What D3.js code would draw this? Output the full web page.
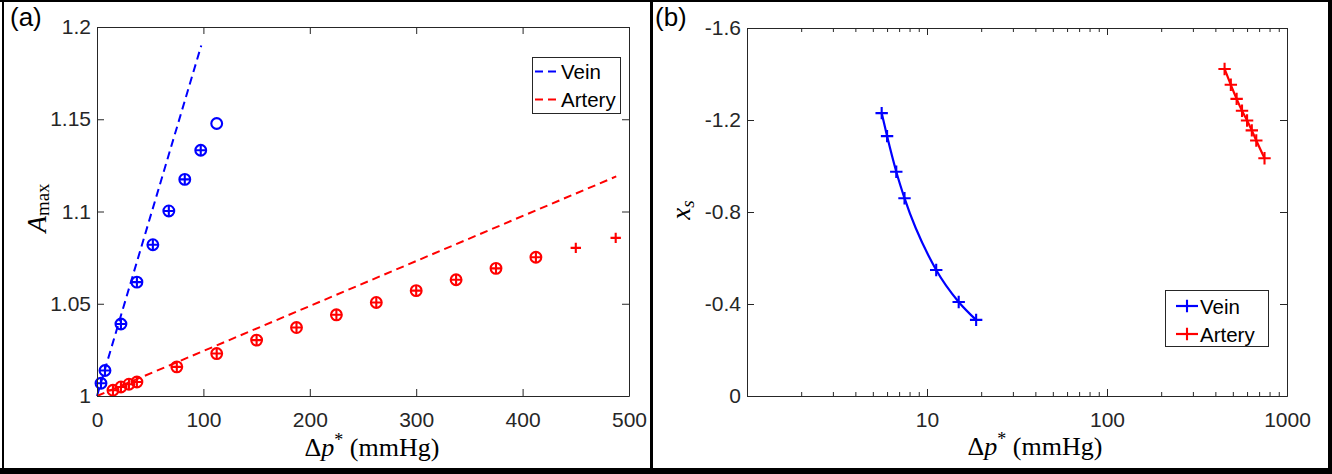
<!DOCTYPE html>
<html>
<head>
<meta charset="utf-8">
<script src="https://cdn.jsdelivr.net/npm/d3@7"></script>
<style>
  body { margin: 0; background: #fff; }
  svg { display: block; }
</style>
</head>
<body>
<script>
// ---- panel (a) data: A_max against pressure difference ----
const veinDpA = [3.75, 7.5, 22.5, 37.5, 52.5, 67.5, 82.5, 97.5, 112.5];
const veinAmaxCircle = [1.0069, 1.0138, 1.039, 1.0617, 1.082, 1.1003, 1.1174, 1.1332, 1.1477];
const veinDpPlus = [3.75, 7.5, 22.5, 37.5, 52.5, 67.5, 82.5, 97.5];
const veinAmaxPlus = [1.0069, 1.0138, 1.039, 1.0617, 1.082, 1.1003, 1.1174, 1.1332];

const arteryDpA = [15, 22.5, 30, 37.5, 75, 112.5, 150, 187.5, 225, 262.5, 300, 337.5, 375, 412.5];
const arteryAmaxCircle = [1.0031, 1.0049, 1.0064, 1.0076, 1.0158, 1.023, 1.0303, 1.0371, 1.044, 1.0507, 1.0571, 1.063, 1.0692, 1.0752];
const arteryDpPlus = [15, 22.5, 30, 37.5, 75, 112.5, 150, 187.5, 225, 262.5, 300, 337.5, 375, 412.5, 450, 487.5];
const arteryAmaxPlus = [1.0031, 1.0049, 1.0064, 1.0076, 1.0158, 1.023, 1.0303, 1.0371, 1.044, 1.0507, 1.0571, 1.063, 1.0692, 1.0752, 1.0803, 1.0857];

// linear (dashed) predictions
const veinFitDp = [0, 98];
const veinFitAmax = [1, 1.19];
const arteryFitDp = [0, 488];
const arteryFitAmax = [1, 1.119];

const xTicksA = [0, 100, 200, 300, 400, 500];
const yTicksA = [1, 1.05, 1.1, 1.15, 1.2];

// ---- panel (b) data: x_s against pressure difference (log x) ----
const veinDpB = [5.6, 6.0, 6.75, 7.5, 11.25, 15, 18.75];
const veinXs = [-1.23, -1.13, -0.975, -0.86, -0.548, -0.409, -0.331];
const arteryDpB = [450, 487.5, 525, 562.5, 600, 637.5, 675, 750];
const arteryXs = [-1.422, -1.353, -1.292, -1.24, -1.198, -1.155, -1.111, -1.034];

const xTicksB = [10, 100, 1000];
const xMinorB = [2, 3, 4, 5, 6, 7, 8, 9, 20, 30, 40, 50, 60, 70, 80, 90, 200, 300, 400, 500, 600, 700, 800, 900];
const yTicksB = [0, -0.4, -0.8, -1.2, -1.6];

const legendNames = ["Vein", "Artery"];

// ---- look ----
const BLUE = "#0000ff";
const RED = "#ff0000";
const AXIS = "#262626";
const SANS = "'Liberation Sans', Arial, sans-serif";
const SERIF = "'Liberation Serif', 'Times New Roman', serif";
const TICK_FONT = 21;
const TICK_LEN = 7;

const svg = d3.select("body").append("svg")
    .attr("width", 1332)
    .attr("height", 474);

// outer frame of the figure
const frame = svg.append("g").attr("fill", "#000");
frame.append("rect").attr("x", 0).attr("y", 0).attr("width", 1332).attr("height", 2);
frame.append("rect").attr("x", 2).attr("y", 0).attr("width", 2).attr("height", 474);
frame.append("rect").attr("x", 1328).attr("y", 0).attr("width", 4).attr("height", 474);
frame.append("rect").attr("x", 0).attr("y", 468).attr("width", 1332).attr("height", 6);
frame.append("rect").attr("x", 650).attr("y", 0).attr("width", 3).attr("height", 474);

// draws the four sides of a boxed MATLAB style axes
function drawBox(g, x, y, o) {
    const [x0, x1] = x.range();
    const [y0, y1] = y.range(); // y0 = bottom

    const style = sel => {
        sel.selectAll("path.domain").attr("stroke", AXIS).attr("stroke-width", 1);
        sel.selectAll(".tick line").attr("stroke", AXIS).attr("stroke-width", 1);
        sel.selectAll(".tick text")
            .attr("fill", AXIS)
            .style("font-family", SANS)
            .style("font-size", TICK_FONT + "px");
    };

    g.append("g").attr("transform", `translate(0,${y0})`)
        .call(d3.axisBottom(x).tickValues(o.xTicks).tickFormat(o.xFormat)
            .tickSizeInner(-TICK_LEN).tickSizeOuter(0).tickPadding(16))
        .call(style);
    g.append("g").attr("transform", `translate(0,${y1})`)
        .call(d3.axisTop(x).tickValues(o.xTicks).tickFormat(() => "")
            .tickSizeInner(-TICK_LEN).tickSizeOuter(0))
        .call(style);
    g.append("g").attr("transform", `translate(${x0},0)`)
        .call(d3.axisLeft(y).tickValues(o.yTicks).tickFormat(d => String(d))
            .tickSizeInner(-TICK_LEN).tickSizeOuter(0).tickPadding(6))
        .call(style);
    g.append("g").attr("transform", `translate(${x1},0)`)
        .call(d3.axisRight(y).tickValues(o.yTicks).tickFormat(() => "")
            .tickSizeInner(-TICK_LEN).tickSizeOuter(0))
        .call(style);

    if (o.xMinor) {
        g.append("g").attr("transform", `translate(0,${y0})`)
            .call(d3.axisBottom(x).tickValues(o.xMinor).tickFormat(() => "")
                .tickSizeInner(-4).tickSizeOuter(0))
            .call(style);
        g.append("g").attr("transform", `translate(0,${y1})`)
            .call(d3.axisTop(x).tickValues(o.xMinor).tickFormat(() => "")
                .tickSizeInner(-4).tickSizeOuter(0))
            .call(style);
    }
}

// x label: Δp* (mmHg)
function xLabel(g, cx, baseline) {
    const t = g.append("text")
        .attr("x", cx).attr("y", baseline)
        .attr("text-anchor", "middle")
        .style("font-family", SERIF)
        .style("font-size", "26px")
        .attr("fill", "#000");
    t.append("tspan").text("Δ");
    t.append("tspan").style("font-style", "italic").text("p");
    t.append("tspan").attr("dy", -10).style("font-size", "18px").text("*");
    t.append("tspan").attr("dy", 10).text(" (mmHg)");
}

// symbol helpers
const plusPath = s => `M${-s},0H${s}M0,${-s}V${s}`;

function drawCircles(g, xs, ys, x, y, color) {
    g.append("g").selectAll("circle")
        .data(d3.zip(xs, ys))
        .join("circle")
        .attr("cx", d => x(d[0]))
        .attr("cy", d => y(d[1]))
        .attr("r", 5.4)
        .attr("fill", "none")
        .attr("stroke", color)
        .attr("stroke-width", 2.1);
}

function drawPluses(g, xs, ys, x, y, color, size) {
    g.append("g").selectAll("path")
        .data(d3.zip(xs, ys))
        .join("path")
        .attr("transform", d => `translate(${x(d[0])},${y(d[1])})`)
        .attr("d", plusPath(size))
        .attr("fill", "none")
        .attr("stroke", color)
        .attr("stroke-width", 2.1);
}

// ================= panel (a) =================
const xA = d3.scaleLinear().domain([0, 500]).range([97, 629]);
const yA = d3.scaleLinear().domain([1, 1.2]).range([396, 27]);
const gA = svg.append("g");

const dashLine = d3.line().x(d => xA(d[0])).y(d => yA(d[1]));
gA.append("path")
    .attr("d", dashLine(d3.zip(veinFitDp, veinFitAmax)))
    .attr("fill", "none").attr("stroke", BLUE)
    .attr("stroke-width", 2).attr("stroke-dasharray", "8,5");
gA.append("path")
    .attr("d", dashLine(d3.zip(arteryFitDp, arteryFitAmax)))
    .attr("fill", "none").attr("stroke", RED)
    .attr("stroke-width", 2).attr("stroke-dasharray", "8,5");

drawCircles(gA, veinDpA, veinAmaxCircle, xA, yA, BLUE);
drawPluses(gA, veinDpPlus, veinAmaxPlus, xA, yA, BLUE, 5.2);
drawCircles(gA, arteryDpA, arteryAmaxCircle, xA, yA, RED);
drawPluses(gA, arteryDpPlus, arteryAmaxPlus, xA, yA, RED, 5.2);

drawBox(gA, xA, yA, { xTicks: xTicksA, yTicks: yTicksA, xFormat: d => String(d) });

xLabel(gA, 372, 456);

// y label A_max
const yl = gA.append("text")
    .attr("transform", "translate(46,208) rotate(-90)")
    .attr("text-anchor", "middle")
    .style("font-family", SERIF)
    .attr("fill", "#000");
yl.append("tspan").style("font-style", "italic").style("font-size", "27px").text("A");
yl.append("tspan").attr("dy", 3).style("font-size", "19px").text("max");

// legend (a)
const legA = gA.append("g");
legA.append("rect").attr("x", 532.5).attr("y", 57.5).attr("width", 88).attr("height", 56)
    .attr("fill", "#fff").attr("stroke", AXIS).attr("stroke-width", 1);
[BLUE, RED].forEach((c, i) => {
    const cy = 71.5 + i * 28;
    legA.append("line").attr("x1", 535).attr("x2", 557).attr("y1", cy).attr("y2", cy)
        .attr("stroke", c).attr("stroke-width", 2).attr("stroke-dasharray", "8,5");
    legA.append("text").attr("x", 561).attr("y", cy + 7.5)
        .style("font-family", SANS).style("font-size", "20.5px").attr("fill", "#000")
        .text(legendNames[i]);
});

gA.append("text").attr("x", 10).attr("y", 26)
    .style("font-family", SANS).style("font-size", "26px").attr("fill", "#000")
    .text("(a)");

// ================= panel (b) =================
const xB = d3.scaleLog().domain([1, 1000]).range([747, 1287]);
const yB = d3.scaleLinear().domain([0, -1.6]).range([396, 28]);
const gB = svg.append("g");

const curve = d3.line().x(d => xB(d[0])).y(d => yB(d[1])).curve(d3.curveMonotoneX);
gB.append("path")
    .attr("d", curve(d3.zip(veinDpB, veinXs)))
    .attr("fill", "none").attr("stroke", BLUE).attr("stroke-width", 2.2);
gB.append("path")
    .attr("d", curve(d3.zip(arteryDpB, arteryXs)))
    .attr("fill", "none").attr("stroke", RED).attr("stroke-width", 2.2);
drawPluses(gB, veinDpB, veinXs, xB, yB, BLUE, 6.2);
drawPluses(gB, arteryDpB, arteryXs, xB, yB, RED, 6.2);

drawBox(gB, xB, yB, { xTicks: xTicksB, xMinor: xMinorB, yTicks: yTicksB, xFormat: d => String(d) });

xLabel(gB, 1035, 455);

const ylB = gB.append("text")
    .attr("transform", "translate(690,210) rotate(-90)")
    .attr("text-anchor", "middle")
    .style("font-family", SERIF)
    .style("font-style", "italic")
    .attr("fill", "#000");
ylB.append("tspan").style("font-size", "27px").text("x");
ylB.append("tspan").attr("dy", 4).style("font-size", "19px").text("s");

// legend (b)
const legB = gB.append("g");
legB.append("rect").attr("x", 1165.5).attr("y", 290.5).attr("width", 103).attr("height", 56)
    .attr("fill", "#fff").attr("stroke", AXIS).attr("stroke-width", 1);
[BLUE, RED].forEach((c, i) => {
    const cy = 306 + i * 28;
    legB.append("line").attr("x1", 1176).attr("x2", 1198).attr("y1", cy).attr("y2", cy)
        .attr("stroke", c).attr("stroke-width", 2.2);
    legB.append("path").attr("transform", `translate(1187,${cy})`).attr("d", plusPath(6.2))
        .attr("stroke", c).attr("stroke-width", 2.1);
    legB.append("text").attr("x", 1200).attr("y", cy + 8)
        .style("font-family", SANS).style("font-size", "20.5px").attr("fill", "#000")
        .text(legendNames[i]);
});

gB.append("text").attr("x", 655).attr("y", 26)
    .style("font-family", SANS).style("font-size", "26px").attr("fill", "#000")
    .text("(b)");
</script>
</body>
</html>
